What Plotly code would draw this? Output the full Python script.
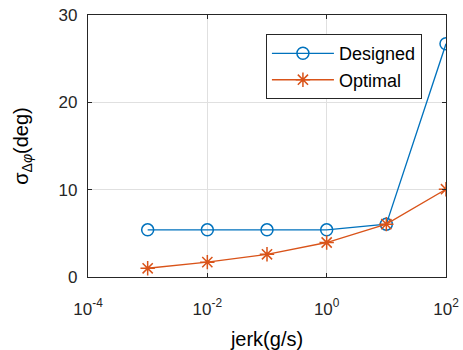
import plotly.graph_objects as go

jerk = [1e-3, 1e-2, 1e-1, 1e0, 1e1, 1e2]
designed = [5.4, 5.4, 5.4, 5.4, 6.05, 26.7]
optimal = [1.0, 1.7, 2.6, 3.95, 6.05, 10.05]
xtick_vals = [1e-4, 1e-2, 1e0, 1e2]
xtick_text = ["10<sup>-4</sup>", "10<sup>-2</sup>", "10<sup>0</sup>", "10<sup>2</sup>"]
ytick_vals = [0, 10, 20, 30]

blue = "#0072BD"
orange = "#D95319"
axcol = "#262626"
font = "Liberation Sans, Arial, sans-serif"

fig = go.Figure()
fig.add_trace(go.Scatter(
    x=jerk, y=designed, name="Designed", mode="lines+markers",
    line=dict(color=blue, width=1.3),
    marker=dict(symbol="circle-open", size=12, color=blue, line=dict(width=1.5, color=blue)),
))
fig.add_trace(go.Scatter(
    x=jerk, y=optimal, name="Optimal", mode="lines+markers",
    line=dict(color=orange, width=1.3),
    marker=dict(symbol="asterisk-open", size=12, color=orange, line=dict(width=1.5, color=orange)),
))

fig.update_layout(
    width=463, height=350,
    margin=dict(l=88, r=17, t=15, b=73),
    paper_bgcolor="white", plot_bgcolor="white",
    font=dict(family=font, size=17, color=axcol),
    legend=dict(
        x=0.497, y=0.927, xanchor="left", yanchor="top",
        bordercolor=axcol, borderwidth=1, bgcolor="white",
        font=dict(size=18, color="black"),
        itemwidth=62, tracegroupgap=0,
    ),
    showlegend=True,
)
fig.update_xaxes(
    type="log", range=[-4, 2], automargin=False,
    tickvals=xtick_vals, ticktext=xtick_text, ticklabeloverflow="allow",
    showline=True, linecolor=axcol, linewidth=1.2, mirror="ticks",
    ticks="inside", ticklen=4, tickcolor=axcol,
    showgrid=True, gridcolor="#e0e0e0", gridwidth=1,
    zeroline=False, ticklabelstandoff=16,
    title=dict(text="jerk(g/s)", font=dict(size=20, color="black"), standoff=16),
    tickfont=dict(size=17, color=axcol),
)
fig.update_yaxes(
    range=[0, 30], tickvals=ytick_vals, automargin=False, ticklabeloverflow="allow",
    showline=True, linecolor=axcol, linewidth=1.2, mirror="ticks",
    ticks="inside", ticklen=4, tickcolor=axcol,
    showgrid=True, gridcolor="#e0e0e0", gridwidth=1,
    zeroline=False, ticklabelstandoff=6,
    title=dict(text="σ<sub>Δ<i>φ</i></sub>(deg)", font=dict(size=20, color="black"), standoff=24),
    tickfont=dict(size=17, color=axcol),
)

fig.write_html(
    "out.html",
    config={"displayModeBar": False},
    post_script="document.body.style.margin='0';document.body.style.overflow='hidden';",
)
